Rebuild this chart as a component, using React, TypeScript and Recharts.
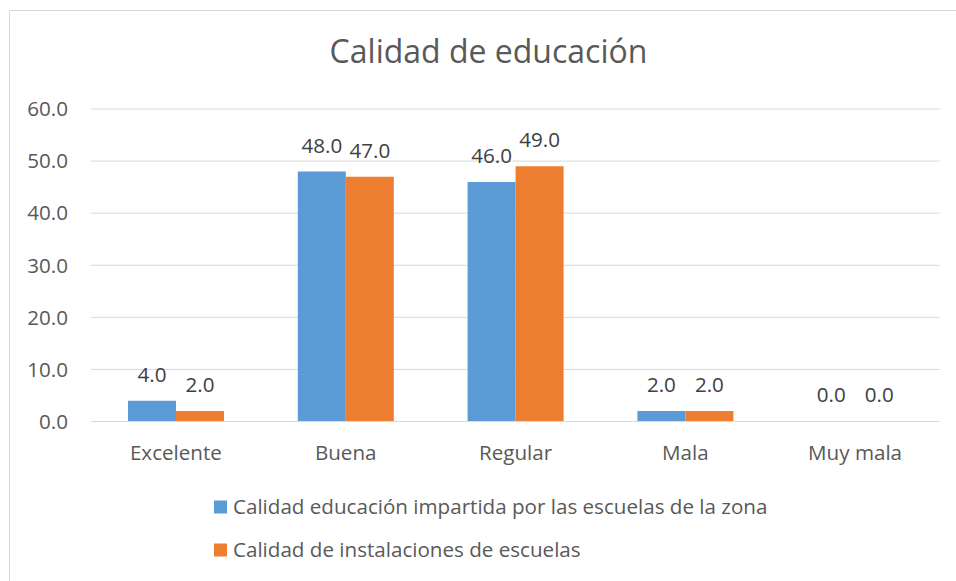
import React from "react";
import { BarChart, Bar, XAxis, YAxis, CartesianGrid, LabelList } from "recharts";

const categories = ["Excelente", "Buena", "Regular", "Mala", "Muy mala"];
const educacionImpartida = [4.0, 48.0, 46.0, 2.0, 0.0];
const instalaciones = [2.0, 47.0, 49.0, 2.0, 0.0];
const yTicks = [0, 10, 20, 30, 40, 50, 60];
const title = "Calidad de educación";
const series = [
  { key: "impartida", name: "Calidad educación impartida por las escuelas de la zona", color: "#5B9BD5" },
  { key: "instalaciones", name: "Calidad de instalaciones de escuelas", color: "#ED7D31" },
];

const data = categories.map((c, i) => ({
  category: c,
  impartida: educacionImpartida[i],
  instalaciones: instalaciones[i],
}));

const fmt = (v: any) => Number(v).toFixed(1);
const FONT = "'Open Sans', sans-serif";
const FS = 20.6;

export default function App() {
  return (
    <div
      style={{
        position: "absolute",
        left: 0,
        top: 0,
        width: 956,
        height: 581,
        background: "#fff",
        fontFamily: FONT,
        overflow: "hidden",
      }}
    >
      <svg
        width={956}
        height={581}
        style={{ position: "absolute", left: 0, top: 0, pointerEvents: "none" }}
      >
        <line x1={9.5} y1={10.5} x2={956} y2={10.5} stroke="#D9D9D9" strokeWidth={1} />
        <line x1={9.5} y1={10.5} x2={9.5} y2={581} stroke="#D9D9D9" strokeWidth={1} />
        <text
          x={488.5}
          y={63}
          textAnchor="middle"
          fontSize={32}
          fill="#595959"
          fontFamily={FONT}
        >
          {title}
        </text>
        {series.map((s, i) => (
          <g key={s.key}>
            <rect x={214} y={500.5 + i * 43} width={13} height={13} fill={s.color} />
            <text x={233} y={514 + i * 43} fontSize={FS} fill="#595959" fontFamily={FONT}>
              {s.name}
            </text>
          </g>
        ))}
      </svg>
      <div style={{ position: "absolute", left: 0, top: 0 }}>
        <BarChart
          width={956}
          height={581}
          data={data}
          margin={{ top: 109, right: 16, left: 11, bottom: 129.5 }}
          barGap={0}
        >
          <CartesianGrid vertical={false} stroke="#D9D9D9" strokeWidth={1} />
          <XAxis
            dataKey="category"
            tickLine={false}
            tickSize={0}
            tickMargin={24}
            height={30}
            axisLine={{ stroke: "#D9D9D9", strokeWidth: 1 }}
            tick={{ fill: "#595959", fontSize: FS }}
            interval={0}
          />
          <YAxis
            width={80}
            domain={[0, 60]}
            ticks={yTicks}
            tickFormatter={fmt}
            tickLine={false}
            axisLine={false}
            tickSize={0}
            tickMargin={23}
            tick={{ fill: "#595959", fontSize: FS }}
          />
          {series.map((s) => (
            <Bar
              key={s.key}
              dataKey={s.key}
              name={s.name}
              fill={s.color}
              barSize={48}
              minPointSize={0.01}
              isAnimationActive={false}
            >
              <LabelList
                dataKey={s.key}
                position="top"
                offset={19}
                fill="#404040"
                fontSize={FS}
                formatter={fmt}
              />
            </Bar>
          ))}
        </BarChart>
      </div>
    </div>
  );
}
